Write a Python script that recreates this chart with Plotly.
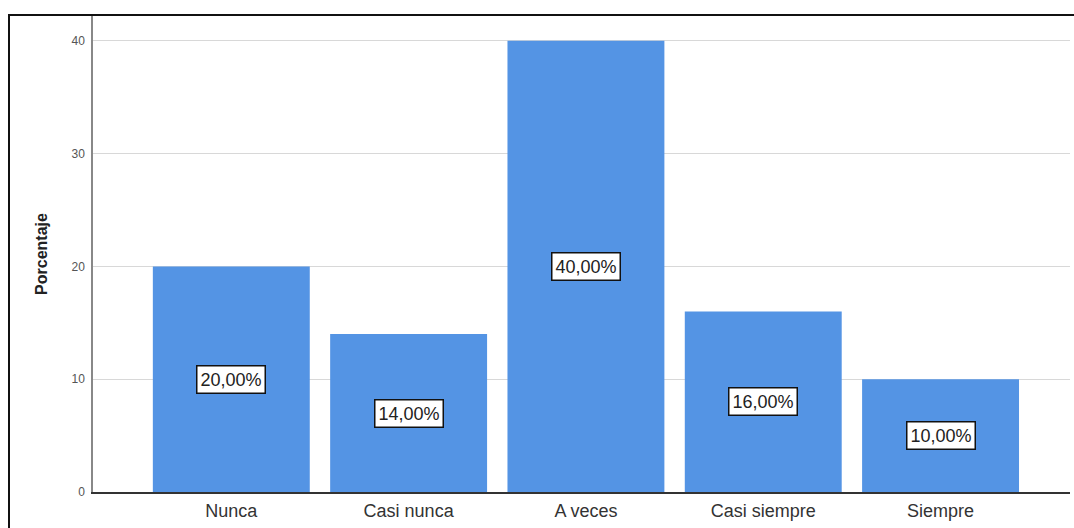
import plotly.graph_objects as go

categories = ["Nunca", "Casi nunca", "A veces", "Casi siempre", "Siempre"]
percentages = [20.0, 14.0, 40.0, 16.0, 10.0]
y_ticks = [0, 10, 20, 30, 40]

L, R, T, B = 93, 4, 16, 36
W, H = 1074, 528
plot_w = W - L - R
plot_h = H - T - B

fig = go.Figure()
fig.add_trace(go.Bar(
    x=categories, y=percentages,
    marker=dict(color="#5494E4", line=dict(width=0)),
    width=0.885,
    hoverinfo="x+y",
))

for c, v in zip(categories, percentages):
    fig.add_annotation(
        x=c, y=v / 2, xref="x", yref="y",
        text=f"{v:.2f}".replace(".", ",") + "%",
        showarrow=False,
        font=dict(family="Liberation Sans, Arial", size=18, color="#222"),
        bgcolor="white", bordercolor="#111", borderwidth=1.5, borderpad=3,
    )

# outer frame
fig.add_shape(
    type="rect", xref="paper", yref="paper",
    x0=(9 - L) / plot_w, x1=(W + 10 - L) / plot_w,
    y0=-(B + 10) / plot_h, y1=(H - B - 15) / plot_h,
    line=dict(color="#111", width=2), fillcolor="rgba(0,0,0,0)", layer="above",
)

fig.update_layout(
    width=W, height=H,
    margin=dict(l=L, r=R, t=T, b=B),
    paper_bgcolor="white", plot_bgcolor="white",
    showlegend=False,
    font=dict(family="Liberation Sans, Arial", color="#333"),
    xaxis=dict(
        range=[-0.78, 4.73],
        showline=True, linecolor="#333", linewidth=1.5,
        ticks="", tickfont=dict(size=18, color="#333"),
        ticklabelstandoff=2,
        showgrid=False, fixedrange=True,
    ),
    yaxis=dict(
        range=[0, 42.2],
        tickvals=y_ticks,
        ticktext=[str(t) for t in y_ticks],
        showline=True, linecolor="#888", linewidth=1.5,
        showgrid=True, gridcolor="#d8d8d8", gridwidth=1,
        zeroline=False,
        ticks="", tickfont=dict(size=12, color="#555"),
        ticklabelstandoff=4,
        title=dict(text="<b>Porcentaje</b>", font=dict(size=16, color="#222"), standoff=20),
        fixedrange=True,
    ),
)

fig.write_html(
    "out.html",
    config={"displayModeBar": False},
    post_script="document.body.style.margin='0';document.body.style.overflow='hidden';",
)
